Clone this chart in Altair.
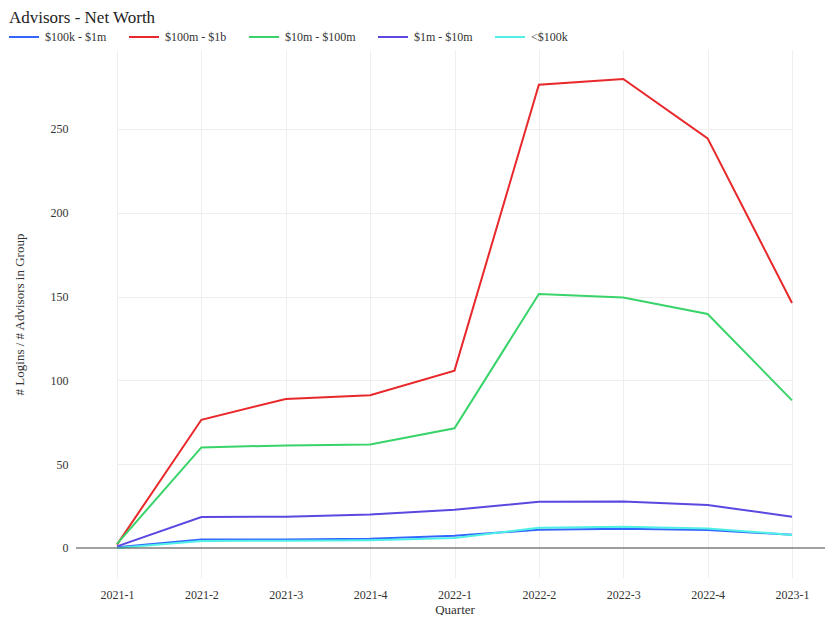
import altair as alt
import pandas as pd

quarters = ["2021-1", "2021-2", "2021-3", "2021-4", "2022-1", "2022-2", "2022-3", "2022-4", "2023-1"]
groups = ["$100k - $1m", "$100m - $1b", "$10m - $100m", "$1m - $10m", "<$100k"]
colors = ["#3366FF", "#E8282A", "#38D46A", "#5A48E0", "#50F0E6"]

v_100k_1m = [0.5, 5.1, 5.1, 5.5, 7.3, 10.9, 11.5, 10.7, 7.9]
v_100m_1b = [2.0, 76.5, 88.9, 91.1, 105.8, 276.4, 279.8, 244.4, 146.2]
v_10m_100m = [2.5, 60.0, 61.2, 61.8, 71.4, 151.5, 149.5, 139.6, 88.1]
v_1m_10m = [1.0, 18.5, 18.7, 20.0, 22.8, 27.6, 27.8, 25.6, 18.7]
v_lt_100k = [0.0, 4.2, 4.3, 4.6, 6.0, 12.1, 12.7, 11.7, 7.8]

series = [v_100k_1m, v_100m_1b, v_10m_100m, v_1m_10m, v_lt_100k]
rows = []
for gi, (g, vals) in enumerate(zip(groups, series)):
    for q, v in zip(quarters, vals):
        rows.append({"Quarter": q, "Group": g, "Value": v, "ord": gi})
df = pd.DataFrame(rows)

FONT = "Liberation Serif"

x = alt.X("Quarter:O", sort=quarters,
          scale=alt.Scale(type="point", range=[41, 716], padding=0),
          axis=alt.Axis(title="Quarter", labelAngle=0, domain=False, ticks=False,
                        labelPadding=11, titlePadding=3, grid=True, gridColor="#EEEEEE"))
y = alt.Y("Value:Q", scale=alt.Scale(domain=[-17.9, 297.1], nice=False, zero=False),
          axis=alt.Axis(title="# Logins / # Advisors in Group", values=[0, 50, 100, 150, 200, 250],
                        domain=False, ticks=False, labelPadding=8, titlePadding=24,
                        grid=True, gridColor="#EEEEEE"))

lines = alt.Chart(df).mark_line(strokeWidth=2).encode(
    x=x, y=y,
    color=alt.Color("Group:N", sort=groups,
                    scale=alt.Scale(domain=groups, range=colors),
                    legend=alt.Legend(title=None, orient="none", direction="horizontal",
                                      legendX=-68, legendY=-29, symbolType="stroke",
                                      symbolSize=900, symbolStrokeWidth=2,
                                      labelFont=FONT, labelFontSize=12, labelColor="#333333",
                                      columnPadding=18, labelOffset=5)),
    order="ord:Q",
)

zero = alt.Chart(pd.DataFrame({"z": [0]})).mark_rule(color="#444444", strokeWidth=1).encode(
    y=alt.Y("z:Q")
)

chart = alt.layer(lines, zero).properties(
    width=749, height=528,
    autosize=alt.AutoSizeParams(type="none"),
    padding={"left": 68, "top": 42, "right": 0, "bottom": 37},
    title=alt.TitleParams("Advisors - Net Worth", anchor="start", frame="group", font=FONT,
                          fontSize=17, fontWeight="normal", color="#222222",
                          dx=-67, dy=6, offset=0),
).configure_view(stroke=None).configure_axis(
    labelFont=FONT, titleFont=FONT, labelFontSize=12, titleFontSize=13,
    labelColor="#333333", titleColor="#333333", titleFontWeight="normal"
)

chart.save("out.html", embed_options={"renderer": "svg", "actions": False})
